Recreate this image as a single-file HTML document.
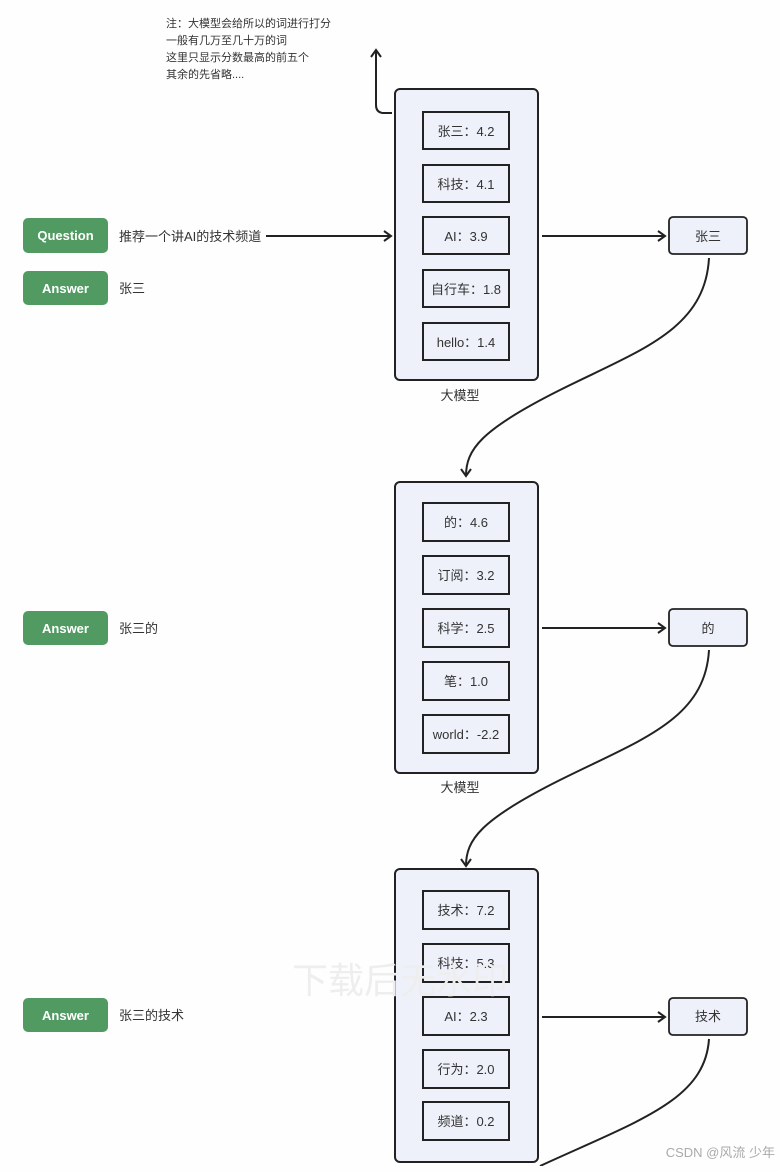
<!DOCTYPE html>
<html><head><meta charset="utf-8"><style>
html,body{margin:0;padding:0;background:#fefefe;}
svg text{font-family:"Liberation Sans","Noto Sans CJK SC",sans-serif;}
</style></head><body>
<svg width="780" height="1166" viewBox="0 0 780 1166" xmlns="http://www.w3.org/2000/svg">
<defs>
<marker id="a" markerWidth="12" markerHeight="12" refX="10" refY="6" orient="auto" markerUnits="userSpaceOnUse">
<path d="M3,1 L10,6 L3,11" fill="none" stroke="#222" stroke-width="2"/>
</marker>
</defs>
<g font-size="11" fill="#333">
<text x="166" y="27">注：大模型会给所以的词进行打分</text>
<text x="166" y="44">一般有几万至几十万的词</text>
<text x="166" y="61">这里只显示分数最高的前五个</text>
<text x="166" y="78">其余的先省略....</text>
</g>
<path d="M392,113 L384,113 Q376,113 376,105 L376,50" fill="none" stroke="#222" stroke-width="2" marker-end="url(#a)"/>
<!-- Buttons -->
<g font-size="13" font-weight="bold" fill="#fff" text-anchor="middle">
<rect x="23" y="218" width="85" height="35" rx="5" fill="#519b63"/><text x="65.5" y="240">Question</text>
<rect x="23" y="271" width="85" height="34" rx="5" fill="#519b63"/><text x="65.5" y="293">Answer</text>
<rect x="23" y="611" width="85" height="34" rx="5" fill="#519b63"/><text x="65.5" y="633">Answer</text>
<rect x="23" y="998" width="85" height="34" rx="5" fill="#519b63"/><text x="65.5" y="1020">Answer</text>
</g>
<g font-size="13" fill="#333">
<text x="119" y="241">推荐一个讲AI的技术频道</text>
<text x="119" y="293">张三</text>
<text x="119" y="633">张三的</text>
<text x="119" y="1020">张三的技术</text>
</g>
<line x1="266" y1="236" x2="391" y2="236" stroke="#222" stroke-width="2" marker-end="url(#a)"/>
<!-- group template values -->
<g stroke="#222" stroke-width="2" fill="#eef1fa">
<rect x="395" y="89" width="143" height="291" rx="5"/>
<rect x="395" y="482" width="143" height="291" rx="5"/>
<rect x="395" y="869" width="143" height="293" rx="5"/>
<rect x="423" y="112" width="86" height="37"/>
<rect x="423" y="165" width="86" height="37"/>
<rect x="423" y="217" width="86" height="37"/>
<rect x="423" y="270" width="86" height="37"/>
<rect x="423" y="323" width="86" height="37"/>
<rect x="423" y="503" width="86" height="38"/>
<rect x="423" y="556" width="86" height="38"/>
<rect x="423" y="609" width="86" height="38"/>
<rect x="423" y="662" width="86" height="38"/>
<rect x="423" y="715" width="86" height="38"/>
<rect x="423" y="891" width="86" height="38"/>
<rect x="423" y="944" width="86" height="38"/>
<rect x="423" y="997" width="86" height="38"/>
<rect x="423" y="1050" width="86" height="38"/>
<rect x="423" y="1102" width="86" height="38"/>
<rect x="669" y="217" width="78" height="37" rx="4" stroke-width="1.8"/>
<rect x="669" y="609" width="78" height="37" rx="4" stroke-width="1.8"/>
<rect x="669" y="998" width="78" height="37" rx="4" stroke-width="1.8"/>
</g>
<g font-size="13" fill="#333" text-anchor="middle">
<text x="466" y="136">张三：4.2</text>
<text x="466" y="189">科技：4.1</text>
<text x="466" y="241">AI：3.9</text>
<text x="466" y="294">自行车：1.8</text>
<text x="466" y="347">hello：1.4</text>
<text x="460" y="400">大模型</text>
<text x="466" y="527">的：4.6</text>
<text x="466" y="580">订阅：3.2</text>
<text x="466" y="633">科学：2.5</text>
<text x="466" y="686">笔：1.0</text>
<text x="466" y="739">world：-2.2</text>
<text x="460" y="792">大模型</text>
<text x="466" y="915">技术：7.2</text>
<text x="466" y="968">科技：5.3</text>
<text x="466" y="1021">AI：2.3</text>
<text x="466" y="1074">行为：2.0</text>
<text x="466" y="1126">频道：0.2</text>
<text x="708" y="241">张三</text>
<text x="708" y="633">的</text>
<text x="708" y="1021">技术</text>
</g>
<g stroke="#222" stroke-width="2" fill="none">
<line x1="542" y1="236" x2="665" y2="236" marker-end="url(#a)"/>
<line x1="542" y1="628" x2="665" y2="628" marker-end="url(#a)"/>
<line x1="542" y1="1017" x2="665" y2="1017" marker-end="url(#a)"/>
<path d="M709,258 C705,330 640,350 560,390 C480,430 466,450 466,476" marker-end="url(#a)"/>
<path d="M709,650 C705,720 640,740 560,780 C480,820 466,840 466,866" marker-end="url(#a)"/>
<path d="M709,1039 C705,1100 640,1120 540,1166"/>
</g>
<text x="400" y="993" font-size="36" fill="#eeeeee" text-anchor="middle" font-family="Liberation Sans,Noto Sans CJK SC,sans-serif">下载后无水印</text>
<text x="775" y="1157" font-size="13" fill="#aaa" text-anchor="end">CSDN @风流 少年</text>
</svg>
</body></html>
